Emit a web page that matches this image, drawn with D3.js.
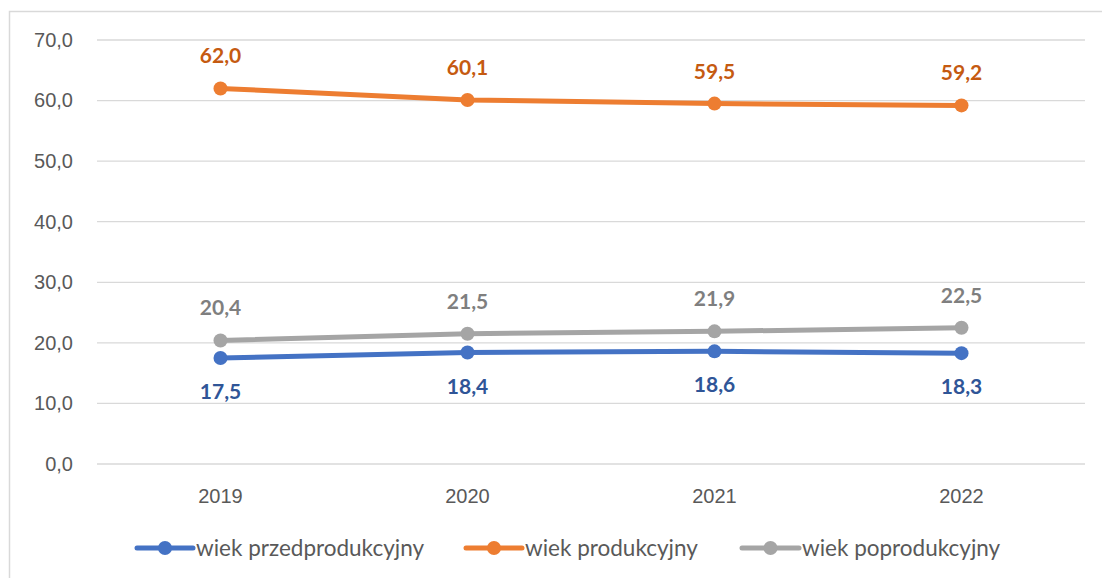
<!DOCTYPE html>
<html>
<head>
<meta charset="utf-8">
<script src="https://cdn.jsdelivr.net/npm/d3@7"></script>
<style>
  body { margin: 0; background: #fff; }
  svg { display: block; font-family: Lato, "Open Sans", sans-serif; }
</style>
</head>
<body>
<div class="root"></div>
<script>
var width = 1102,
    height = 578,
    margin = { top: 40, right: 17, bottom: 114, left: 97 };

// data
var years = ["2019", "2020", "2021", "2022"];
var przed = [17.5, 18.4, 18.6, 18.3];
var prod = [62.0, 60.1, 59.5, 59.2];
var poprod = [20.4, 21.5, 21.9, 22.5];
var yTicks = [0, 10, 20, 30, 40, 50, 60, 70];

var series = [
  { name: "wiek przedprodukcyjny", values: przed, color: "#4472C4", label: "#2F5597", pos: "below" },
  { name: "wiek produkcyjny", values: prod, color: "#ED7D31", label: "#C55A11", pos: "above" },
  { name: "wiek poprodukcyjny", values: poprod, color: "#A5A5A5", label: "#7F7F7F", pos: "above" }
];

var svg = d3.select(".root")
  .append("svg")
  .attr("width", width)
  .attr("height", height);

// chart frame (runs off the right and bottom edge like the screenshot)
svg.append("rect")
  .attr("x", 9.5).attr("y", 11.5)
  .attr("width", 1110).attr("height", 600)
  .attr("fill", "none")
  .attr("stroke", "#D9D9D9")
  .attr("stroke-width", 1.5);

var x = d3.scaleBand()
  .domain(years)
  .range([margin.left, width - margin.right]);

var y = d3.scaleLinear()
  .domain([0, 70])
  .range([height - margin.bottom, margin.top]);

var fmt = function(v) { return d3.format(".1f")(v).replace(".", ","); };

// gridlines
svg.append("g")
  .selectAll("line")
  .data(yTicks)
  .enter().append("line")
  .attr("x1", margin.left)
  .attr("x2", width - margin.right)
  .attr("y1", d => y(d))
  .attr("y2", d => y(d))
  .attr("stroke", "#D9D9D9")
  .attr("stroke-width", 1.3);

// y axis labels
var yAxis = svg.append("g")
  .attr("transform", "translate(" + (margin.left - 24) + ",0)")
  .call(d3.axisLeft(y).tickValues(yTicks).tickFormat(fmt).tickSize(0).tickPadding(0));
yAxis.select(".domain").remove();
yAxis.selectAll("text")
  .attr("fill", "#595959")
  .style("font-size", "20px");

// x axis labels
var xAxis = svg.append("g")
  .attr("transform", "translate(0," + (height - margin.bottom + 25) + ")")
  .call(d3.axisBottom(x).tickSize(0).tickPadding(0));
xAxis.select(".domain").remove();
xAxis.selectAll("text")
  .attr("fill", "#595959")
  .style("font-size", "20px");

var cx = d => x(d) + x.bandwidth() / 2;

var line = d3.line()
  .x((d, i) => cx(years[i]))
  .y(d => y(d));

series.forEach(function(s) {
  var g = svg.append("g");
  g.append("path")
    .datum(s.values)
    .attr("d", line)
    .attr("fill", "none")
    .attr("stroke", s.color)
    .attr("stroke-width", 5)
    .attr("stroke-linejoin", "round");

  g.selectAll("circle")
    .data(s.values)
    .enter().append("circle")
    .attr("cx", (d, i) => cx(years[i]))
    .attr("cy", d => y(d))
    .attr("r", 7)
    .attr("fill", s.color);

  g.selectAll("text")
    .data(s.values)
    .enter().append("text")
    .attr("x", (d, i) => cx(years[i]))
    .attr("y", d => s.pos == "above" ? y(d) - 25 : y(d) + 41)
    .attr("text-anchor", "middle")
    .attr("fill", s.label)
    .style("font-size", "21px")
    .style("font-weight", "bold")
    .text(d => fmt(d));
});

// legend
var legendX = [137, 466, 742],
    legendLen = [56, 56, 57];
var legend = svg.append("g")
  .attr("transform", "translate(0,548)");
series.forEach(function(s, i) {
  var lg = legend.append("g").attr("transform", "translate(" + legendX[i] + ",0)");
  lg.append("line")
    .attr("x1", 0).attr("x2", legendLen[i])
    .attr("stroke", s.color)
    .attr("stroke-width", 5)
    .attr("stroke-linecap", "round");
  lg.append("circle")
    .attr("cx", legendLen[i] / 2).attr("r", 7)
    .attr("fill", s.color);
  lg.append("text")
    .attr("x", legendLen[i] + 3)
    .attr("dy", "0.35em")
    .attr("fill", "#595959")
    .style("font-size", "22.5px")
    .text(s.name);
});
</script>
</body>
</html>
